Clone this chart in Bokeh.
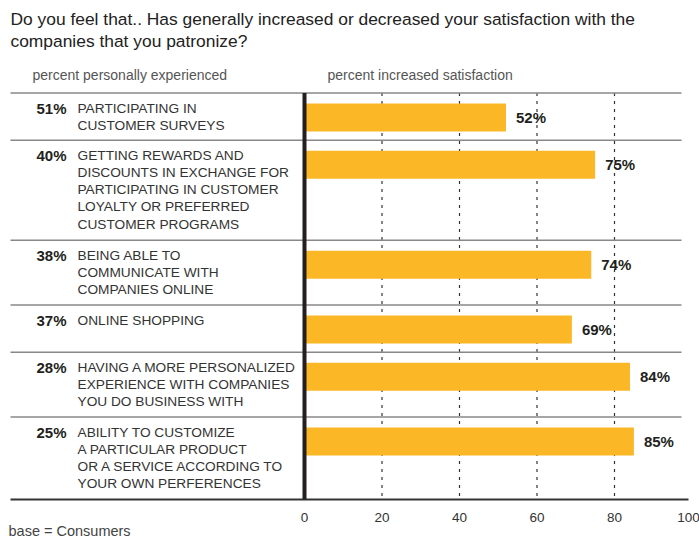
from bokeh.plotting import figure
from bokeh.models import Range1d, ColumnDataSource
from bokeh.core.properties import value
from bokeh.embed import file_html
from bokeh.resources import INLINE

# ---------------- data ----------------
title_lines = [
    "Do you feel that.. Has generally increased or decreased your satisfaction with the",
    "companies that you patronize?",
]
left_header = "percent personally experienced"
right_header = "percent increased satisfaction"
items = [
    "PARTICIPATING IN\nCUSTOMER SURVEYS",
    "GETTING REWARDS AND\nDISCOUNTS IN EXCHANGE FOR\nPARTICIPATING IN CUSTOMER\nLOYALTY OR PREFERRED\nCUSTOMER PROGRAMS",
    "BEING ABLE TO\nCOMMUNICATE WITH\nCOMPANIES ONLINE",
    "ONLINE SHOPPING",
    "HAVING A MORE PERSONALIZED\nEXPERIENCE WITH COMPANIES\nYOU DO BUSINESS WITH",
    "ABILITY TO CUSTOMIZE\nA PARTICULAR PRODUCT\nOR A SERVICE ACCORDING TO\nYOUR OWN PERFERENCES",
]
experienced = [51, 40, 38, 37, 28, 25]
satisfaction = [52, 75, 74, 69, 84, 85]
ticks = [0, 20, 40, 60, 80, 100]
base_note = "base = Consumers"

# ---------------- layout ----------------
W, H = 699, 537
PX0 = 304.0      # pixel of value 0
PXU = 3.875      # pixels per unit
x_start = -PX0 / PXU
x_end = (W - PX0) / PXU


def X(px):
    return x_start + px / PXU


FONT = "Liberation Sans"
DARK = "#231F20"
BAR = "#FBB726"

LINE_H = 17.6
PAD = 12.0
TOP0 = 92.5
n_lines = [s.count("\n") + 1 for s in items]
heights = [max(n, 2) * LINE_H + PAD for n in n_lines]
tops = []
acc = TOP0
for h in heights:
    tops.append(acc)
    acc += h
bottom_y = acc

p = figure(width=W, height=H, x_range=Range1d(x_start, x_end), y_range=Range1d(H, 0),
           output_backend="svg", toolbar_location=None, x_axis_type=None, y_axis_type=None,
           min_border_left=0, min_border_right=0, min_border_top=0, min_border_bottom=0)
p.outline_line_color = None
p.background_fill_color = "white"
p.border_fill_color = "white"

# title
p.text(x=[X(10)] * len(title_lines), y=[8 + 22 * i for i in range(len(title_lines))], text=title_lines,
       text_font=value(FONT), text_font_size="17.4px", text_color="#222222",
       text_baseline="top", text_align="left")

# column headers
p.text(x=[X(32), X(327)], y=[74, 74], text=[left_header, right_header],
       text_font=value(FONT), text_font_size="14px", text_color="#555555",
       text_baseline="middle", text_align="left")

# grid lines (dotted)
inner = [t for t in ticks if 0 < t < 100]
p.segment(x0=inner, y0=[TOP0] * len(inner), x1=inner, y1=[bottom_y] * len(inner),
          line_color="#333333", line_width=1.2, line_dash="3 5")

# row separators
p.segment(x0=[X(10)] * len(tops), y0=tops, x1=[X(681)] * len(tops), y1=tops,
          line_color="#888888", line_width=1.6)
p.segment(x0=[X(10)], y0=[bottom_y], x1=[X(688)], y1=[bottom_y],
          line_color="#333333", line_width=2)

# bars
src = ColumnDataSource(dict(
    left=[0] * len(satisfaction), right=satisfaction,
    top=[t + 10.5 for t in tops], bottom=[t + 38.5 for t in tops],
    lab=[f"{v}%" for v in satisfaction],
    lx=[v + 10 / PXU for v in satisfaction],
    ly=[t + 24.5 for t in tops],
))
p.quad(left="left", right="right", top="top", bottom="bottom", source=src,
       fill_color=BAR, line_color=None)
p.text(x="lx", y="ly", text="lab", source=src, text_font=value(FONT), text_font_size="15px",
       text_font_style="bold", text_color=DARK, text_baseline="middle", text_align="left")

# zero line
p.segment(x0=[0], y0=[TOP0], x1=[0], y1=[bottom_y], line_color=DARK, line_width=4)

# left labels
p.text(x=[X(66)] * len(items), y=[t + 15 for t in tops], text=[f"{v}%" for v in experienced],
       text_font=value(FONT), text_font_size="15px", text_font_style="bold",
       text_color=DARK, text_baseline="middle", text_align="right")
p.text(x=[X(77)] * len(items), y=[t + 7.5 for t in tops], text=items,
       text_font=value(FONT), text_font_size="13.7px", text_color="#333333",
       text_baseline="top", text_align="left", text_line_height=1.15)

# x tick labels (value scale)
p.text(x=ticks, y=[bottom_y + 18.5] * len(ticks), text=[str(t) for t in ticks],
       x_offset=[0] * (len(ticks) - 1) + [-3.5],
       text_font=value(FONT), text_font_size="13.5px", text_color="#333333",
       text_baseline="middle", text_align="center")

# base note
p.text(x=[X(8)], y=[530], text=[base_note],
       text_font=value(FONT), text_font_size="14.5px", text_color="#444444",
       text_baseline="middle", text_align="left")

open("out.html", "w").write(file_html(p, INLINE))
